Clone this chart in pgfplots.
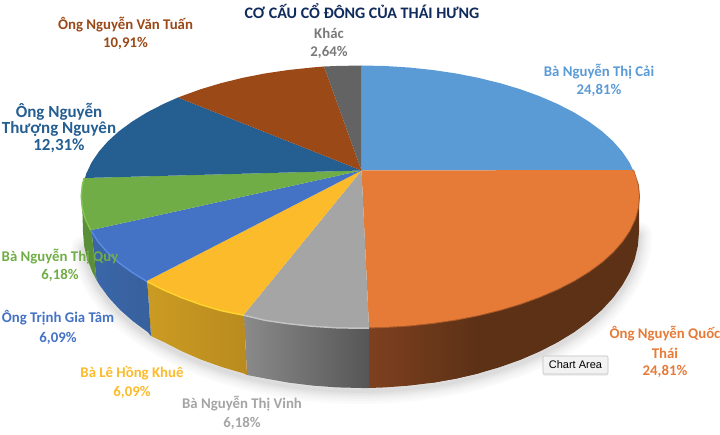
\documentclass[border=0pt]{standalone}
\usepackage{fontspec}
\setmainfont{Carlito}
\newfontfamily\tipfont{Liberation Sans}
\usepackage{pgfplots}
\pgfplotsset{compat=1.18}
\usepackage{pgfplotstable}
\usetikzlibrary{shadows}

\definecolor{cCai}{HTML}{5B9BD5}
\definecolor{cThai}{HTML}{E67B38}
\definecolor{cVinh}{HTML}{A5A5A5}
\definecolor{cKhue}{HTML}{FBBB2B}
\definecolor{cTam}{HTML}{4472C4}
\definecolor{cQuy}{HTML}{70AD47}
\definecolor{cNguyen}{HTML}{255E91}
\definecolor{cTuan}{HTML}{9A4917}
\definecolor{cKhac}{HTML}{636363}
\definecolor{cTitle}{HTML}{0F2A5C}
% wall shades
\definecolor{wThaiL}{HTML}{7E401F}
\definecolor{wThaiR}{HTML}{5C3116}
\definecolor{wVinhL}{HTML}{8A8A8A}
\definecolor{wVinhR}{HTML}{565656}
\definecolor{wKhueL}{HTML}{CB9B22}
\definecolor{wKhueR}{HTML}{B98B1F}
\definecolor{wTamL}{HTML}{3A66A8}
\definecolor{wTamR}{HTML}{38609E}
\definecolor{wQuy}{HTML}{5A8F38}
% bevel shades
\definecolor{bVinh}{HTML}{C4C4C4}
\definecolor{bKhue}{HTML}{FFD52E}
\definecolor{bTam}{HTML}{5C8DE4}
\definecolor{bQuy}{HTML}{82C653}
\definecolor{bThai}{HTML}{A9592A}

% lower rim of the wall
\pgfplotstableread{
x y
639 232
637.9 245.6
634.8 259.1
629.5 272.4
622.2 285.4
613 297.9
601.8 310
588.7 321.5
574 332.3
557.6 342.3
539.7 351.5
520.5 359.8
500 367.1
478.5 373.4
456.1 378.6
433 382.7
409.3 385.6
385.2 387.4
361 388
336.8 387.4
312.7 385.6
289 382.7
265.9 378.6
243.5 373.4
222 367.1
201.5 359.8
182.3 351.5
164.4 342.3
148 332.3
133.3 321.5
120.2 310
109 297.9
99.8 285.4
92.5 272.4
87.2 259.1
84.1 245.6
}\lowrim

\newcommand{\lab}[4]{\node[font=\fontsize{14.8}{14.8}\selectfont\bfseries, text=#1, anchor=center, inner sep=0pt] at (axis cs:#2,#3) {#4};}
\newcommand{\labbig}[4]{\node[font=\fontsize{17}{17}\selectfont\bfseries, text=#1, anchor=center, inner sep=0pt] at (axis cs:#2,#3) {#4};}

\begin{document}
\begin{tikzpicture}[x=1pt,y=1pt]
\path[use as bounding box] (0,0) rectangle (720pt,435pt);
\begin{axis}[
    at={(0,0)}, anchor=south west,
    scale only axis, width=720pt, height=435pt,
    xmin=0, xmax=720, ymin=0, ymax=435,
    y dir=reverse,
    hide axis,
]
% soft shadow under the pie
\addplot[draw=black, opacity=.018, line width=26pt, line cap=round, yshift=-3pt] table {\lowrim};
\addplot[draw=black, opacity=.018, line width=21pt, line cap=round, yshift=-3pt] table {\lowrim};
\addplot[draw=black, opacity=.02, line width=16pt, line cap=round, yshift=-3pt] table {\lowrim};
\addplot[draw=black, opacity=.025, line width=12pt, line cap=round, yshift=-3pt] table {\lowrim};
\addplot[draw=black, opacity=.03, line width=8pt, line cap=round, yshift=-3pt] table {\lowrim};
\addplot[draw=black, opacity=.03, line width=4pt, line cap=round, yshift=-3pt] table {\lowrim};

% walls
\addplot[draw=none, fill=wThaiR] coordinates {
(432.6,323) (455.7,319.6) (478.2,315.2) (499.8,309.9) (520.2,303.8) (539.5,296.8) (557.4,289.1) (573.8,280.7)
(588.6,271.6) (601.7,262) (612.9,251.9) (622.2,241.3) (629.5,230.4) (634.8,219.2)
(637.9,207.9) (639,196.5)
(639,232) (637.9,245.6) (634.8,259.1) (629.5,272.4) (622.2,285.4) (613,297.9)
(601.8,310) (588.7,321.5) (574,332.3) (557.6,342.3) (539.7,351.5) (520.5,359.8)
(500,367.1) (478.5,373.4) (456.1,378.6) (433,382.7)};
\addplot[draw=none, left color=wThaiL, right color=wThaiR] coordinates {
(369,327.4) (384.8,327) (408.9,325.5) (432.6,323) (455.7,319.6) (478.2,315.2)
(478.5,373.4) (456.1,378.6) (433,382.7) (409.3,385.6) (385.2,387.4) (369,388)};
\addplot[draw=none, left color=wVinhL, right color=wVinhR] coordinates {
(369,327.4) (360.5,327.5) (336.2,327) (312.1,325.5) (288.4,323) (265.3,319.6) (244,314.5)
(247,375) (265.9,378.6) (289,382.7) (312.7,385.6) (336.8,387.4) (361,388) (369,388)};
\addplot[draw=none, left color=wKhueL, right color=wKhueR] coordinates {
(244,314.5) (221.2,309.9) (200.8,303.8) (181.5,296.8) (163.6,289.1) (147.2,280.7)
(151,336) (164.4,342.3) (182.3,351.5) (201.5,359.8) (222,367.1) (243.5,373.4) (247,375)};
\addplot[draw=none, left color=wTamL, right color=wTamR] coordinates {
(147.2,280.7) (132.4,271.6) (119.3,262) (108.1,251.9) (98.8,241.3) (91.5,230)
(96.5,280) (99.8,285.4) (109,297.9) (120.2,310) (133.3,321.5) (148,332.3) (151,336)};
\addplot[draw=none, fill=wQuy] coordinates {
(91.5,230) (86.2,219.2) (83.1,207.9) (82,196.5)
(83,232) (84.1,245.6) (87.2,259.1) (92.5,272.4) (96.5,280)};

% bevel along the top edge of the walls
\addplot[draw=bVinh, line width=3pt] coordinates {(369,327.4) (360.5,327.5) (336.2,327) (312.1,325.5) (288.4,323) (265.3,319.6) (244,314.5)};
\addplot[draw=bKhue, line width=3pt] coordinates {(244,314.5) (221.2,309.9) (200.8,303.8) (181.5,296.8) (163.6,289.1) (147.2,280.7)};
\addplot[draw=bTam, line width=3pt] coordinates {(147.2,280.7) (132.4,271.6) (119.3,262) (108.1,251.9) (98.8,241.3) (91.5,230)};
\addplot[draw=bQuy, line width=3pt] coordinates {(91.5,230) (86.2,219.2) (83.1,207.9) (82,196.5) (83.1,185.1) (85,178)};
\addplot[draw=bThai, line width=2pt] coordinates {(369,327.4) (384.8,327) (408.9,325.5) (432.6,323) (455.7,319.6) (478.2,315.2) (499.8,309.9) (520.2,303.8) (539.5,296.8) (557.4,289.1) (573.8,280.7) (588.6,271.6) (601.7,262) (612.9,251.9) (622.2,241.3) (629.5,230.4) (634.8,219.2) (637.9,207.9) (639,196.5) (637.9,185.1) (633,170)};

% top face
\addplot[draw=none, fill=cCai] coordinates {(361.5,170.5) (361.5,65.5) (384.8,66) (408.9,67.5) (432.6,70) (455.7,73.4) (478.2,77.8) (499.8,83.1) (520.2,89.2) (539.5,96.2) (557.4,103.9) (573.8,112.3) (588.6,121.4) (601.7,131) (612.9,141.1) (622.2,151.7) (629.5,162.6) (633,170)};
\addplot[draw=none, fill=cThai] coordinates {(361.5,170.5) (633,170) (634.8,173.8) (637.9,185.1) (639,196.5) (637.9,207.9) (634.8,219.2) (629.5,230.4) (622.2,241.3) (612.9,251.9) (601.7,262) (588.6,271.6) (573.8,280.7) (557.4,289.1) (539.5,296.8) (520.2,303.8) (499.8,309.9) (478.2,315.2) (455.7,319.6) (432.6,323) (408.9,325.5) (384.8,327) (369,327.4)};
\addplot[draw=none, fill=cVinh] coordinates {(361.5,170.5) (369,327.4) (360.5,327.5) (336.2,327) (312.1,325.5) (288.4,323) (265.3,319.6) (244,314.5)};
\addplot[draw=none, fill=cKhue] coordinates {(361.5,170.5) (244,314.5) (221.2,309.9) (200.8,303.8) (181.5,296.8) (163.6,289.1) (147.2,280.7)};
\addplot[draw=none, fill=cTam] coordinates {(361.5,170.5) (147.2,280.7) (132.4,271.6) (119.3,262) (108.1,251.9) (98.8,241.3) (91.5,230)};
\addplot[draw=none, fill=cQuy] coordinates {(361.5,170.5) (91.5,230) (86.2,219.2) (83.1,207.9) (82,196.5) (83.1,185.1) (85,178)};
\addplot[draw=none, fill=cNguyen] coordinates {(361.5,170.5) (85,178) (86.2,173.8) (91.5,162.6) (98.8,151.7) (108.1,141.1) (119.3,131) (132.4,121.4) (147.2,112.3) (163.6,103.9) (178,97.5)};
\addplot[draw=none, fill=cTuan] coordinates {(361.5,170.5) (178,97.5) (181.5,96.2) (200.8,89.2) (221.2,83.1) (242.8,77.8) (265.3,73.4) (288.4,70) (312.1,67.5) (324,66.5)};
\addplot[draw=none, fill=cKhac] coordinates {(361.5,170.5) (324,66.5) (336.2,66) (361.5,65.5)};

% labels
\node[font=\fontsize{16}{16}\selectfont\bfseries, text=cTitle, inner sep=0pt] at (axis cs:362,11) {CƠ CẤU CỔ ĐÔNG CỦA THÁI HƯNG};
\lab{cKhac!85!white}{329}{33}{Khác}
\lab{cKhac!85!white}{329}{52}{2,64\%}
\lab{cTuan}{125.5}{25}{Ông Nguyễn Văn Tuấn}
\lab{cTuan}{125.5}{43.5}{10,91\%}
\labbig{cNguyen}{59}{112}{Ông Nguyễn}
\labbig{cNguyen}{59}{129}{Thượng Nguyên}
\labbig{cNguyen}{59}{146}{12,31\%}
\lab{cCai}{599}{72}{Bà Nguyễn Thị Cải}
\lab{cCai}{599}{90}{24,81\%}
\lab{cThai}{665}{334}{Ông Nguyễn Quốc}
\lab{cThai}{665}{353}{Thái}
\lab{cThai}{665}{371}{24,81\%}
\lab{cQuy}{60}{257}{Bà Nguyễn Thị Quy}
\lab{cQuy}{60}{275}{6,18\%}
\lab{cTam}{58}{318}{Ông Trịnh Gia Tâm}
\lab{cTam}{58}{338}{6,09\%}
\lab{cKhue}{132}{373}{Bà Lê Hồng Khuê}
\lab{cKhue}{132}{392}{6,09\%}
\lab{cVinh}{242}{404}{Bà Nguyễn Thị Vinh}
\lab{cVinh}{242}{423}{6,18\%}

% hover tooltip in the screenshot
\node[font=\tipfont\fontsize{11}{11}\selectfont, text=black, fill=black!5, draw=black!25, line width=.6pt,
      rounded corners=1pt, minimum width=65pt, minimum height=18pt, inner sep=0pt,
      drop shadow={opacity=.12, shadow xshift=0pt, shadow yshift=-2pt}] at (axis cs:575.5,365) {Chart Area};
\end{axis}
\end{tikzpicture}
\end{document}
